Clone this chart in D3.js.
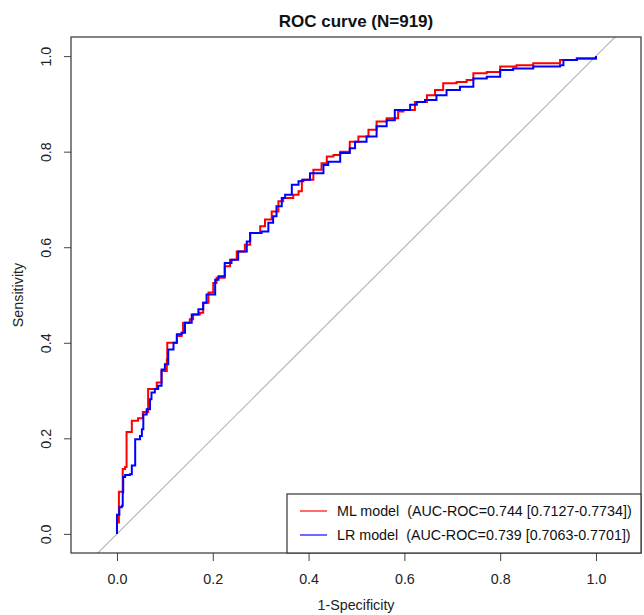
<!DOCTYPE html>
<html>
<head>
<meta charset="utf-8">
<script src="https://cdn.jsdelivr.net/npm/d3@7"></script>
<style>
  body { margin: 0; background: #fff; }
  text { font-family: "Liberation Sans", Arial, sans-serif; }
</style>
</head>
<body>
<div id="chart"></div>
<script>
// ROC curves (1-specificity, sensitivity)
const mlFpr = [0, 0, 0.004, 0.012, 0.012, 0.017, 0.020, 0.031, 0.031, 0.044, 0.054, 0.065, 0.065, 0.072, 0.083,
  0.093, 0.104, 0.105, 0.118, 0.125, 0.135, 0.138, 0.152, 0.159, 0.173, 0.180, 0.191, 0.201, 0.208, 0.225,
  0.236, 0.250, 0.267, 0.278, 0.299, 0.309, 0.323, 0.337, 0.347, 0.368, 0.379, 0.386, 0.410, 0.427, 0.438,
  0.452, 0.466, 0.486, 0.504, 0.525, 0.542, 0.563, 0.587, 0.598, 0.622, 0.647, 0.664, 0.681, 0.709, 0.730,
  0.744, 0.772, 0.800, 0.834, 0.869, 0.925, 0.960, 1];
const mlTpr = [0, 0.024, 0.088, 0.094, 0.136, 0.140, 0.213, 0.215, 0.237, 0.242, 0.255, 0.261, 0.303, 0.303, 0.317,
  0.341, 0.365, 0.400, 0.400, 0.414, 0.421, 0.442, 0.449, 0.459, 0.463, 0.484, 0.505, 0.525, 0.536, 0.560,
  0.574, 0.591, 0.605, 0.630, 0.644, 0.658, 0.675, 0.696, 0.703, 0.710, 0.717, 0.741, 0.762, 0.776, 0.790,
  0.793, 0.800, 0.821, 0.832, 0.846, 0.863, 0.870, 0.884, 0.887, 0.904, 0.918, 0.929, 0.943, 0.946, 0.950,
  0.964, 0.967, 0.978, 0.981, 0.985, 0.992, 0.995, 1];

const lrFpr = [0, 0, 0.005, 0.005, 0.010, 0.012, 0.013, 0.017, 0.027, 0.031, 0.038, 0.048, 0.052, 0.055, 0.062,
  0.069, 0.072, 0.079, 0.086, 0.093, 0.100, 0.107, 0.118, 0.125, 0.135, 0.142, 0.156, 0.170, 0.180, 0.187,
  0.205, 0.212, 0.225, 0.239, 0.253, 0.271, 0.278, 0.302, 0.316, 0.326, 0.333, 0.344, 0.351, 0.365, 0.379,
  0.389, 0.403, 0.431, 0.441, 0.466, 0.486, 0.497, 0.521, 0.542, 0.563, 0.580, 0.612, 0.626, 0.643, 0.667,
  0.688, 0.716, 0.744, 0.772, 0.800, 0.827, 0.869, 0.925, 0.932, 0.960, 1];
const lrTpr = [0, 0.040, 0.045, 0.056, 0.059, 0.087, 0.119, 0.123, 0.125, 0.143, 0.198, 0.205, 0.219, 0.250, 0.261,
  0.282, 0.296, 0.303, 0.310, 0.344, 0.355, 0.386, 0.400, 0.418, 0.421, 0.442, 0.459, 0.470, 0.484, 0.501,
  0.532, 0.539, 0.567, 0.574, 0.591, 0.612, 0.630, 0.633, 0.651, 0.665, 0.686, 0.703, 0.710, 0.731, 0.738,
  0.741, 0.755, 0.772, 0.779, 0.797, 0.807, 0.821, 0.832, 0.853, 0.866, 0.887, 0.898, 0.904, 0.908, 0.918,
  0.929, 0.936, 0.953, 0.957, 0.971, 0.974, 0.978, 0.981, 0.992, 0.995, 1];

const xTicks = [0, 0.2, 0.4, 0.6, 0.8, 1.0];
const yTicks = [0, 0.2, 0.4, 0.6, 0.8, 1.0];
const seriesNames = ["ML model  (AUC-ROC=0.744 [0.7127-0.7734])", "LR model  (AUC-ROC=0.739 [0.7063-0.7701])"];
const seriesColors = ["#ff0000", "#0000ff"];
const legendColors = ["#ff6b6b", "#6b6bff"];

const W = 644, H = 615;
const margin = {top: 37, right: 3, bottom: 62, left: 71};
const width = W - margin.left - margin.right;
const height = H - margin.top - margin.bottom;
const fontSize = 14.3;

const svg = d3.select("#chart").append("svg")
    .attr("width", W)
    .attr("height", H);

const g = svg.append("g")
    .attr("transform", "translate(" + margin.left + "," + margin.top + ")");

// asp = 1 style ranges, like the R plot
const x = d3.scaleLinear().domain([-0.096, 1.094]).range([0, width]);
const y = d3.scaleLinear().domain([-0.04, 1.04]).range([height, 0]);

g.append("clipPath").attr("id", "clip")
  .append("rect").attr("width", width).attr("height", height);

// chance diagonal
g.append("line")
    .attr("clip-path", "url(#clip)")
    .attr("x1", x(-0.2)).attr("y1", y(-0.2))
    .attr("x2", x(1.2)).attr("y2", y(1.2))
    .attr("stroke", "#b8b8b8")
    .attr("stroke-width", 1.2);

// curves
const curves = [
  d3.zip(mlFpr, mlTpr),
  d3.zip(lrFpr, lrTpr)
];
const line = d3.line()
    .x(d => x(d[0]))
    .y(d => y(d[1]))
    .curve(d3.curveStepAfter);

curves.forEach((pts, i) => {
  g.append("path")
      .datum(pts)
      .attr("fill", "none")
      .attr("stroke", seriesColors[i])
      .attr("stroke-width", 2)
      .attr("d", line);
});

// X axis
const xAxis = g.append("g")
    .attr("transform", "translate(0," + height + ")")
    .call(d3.axisBottom(x).tickValues(xTicks).tickSize(8).tickPadding(13).tickFormat(d3.format(".1f")));
xAxis.select(".domain").remove();
xAxis.selectAll("line").attr("stroke", "#444");
xAxis.selectAll("text").attr("font-size", fontSize).attr("fill", "#222")
    .style("font-family", "'Liberation Sans', Arial, sans-serif");

// Y axis
const yAxis = g.append("g")
    .call(d3.axisLeft(y).tickValues(yTicks).tickSize(7).tickFormat(d3.format(".1f")));
yAxis.select(".domain").remove();
yAxis.selectAll("line").attr("stroke", "#444");
yAxis.selectAll("text")
    .attr("font-size", fontSize).attr("fill", "#222")
    .style("font-family", "'Liberation Sans', Arial, sans-serif")
    .attr("transform", "rotate(-90)")
    .attr("x", 0).attr("y", -20).attr("dy", 0)
    .attr("text-anchor", "middle");

// frame
g.append("rect")
    .attr("width", width).attr("height", height)
    .attr("fill", "none").attr("stroke", "#333").attr("stroke-width", 1.2);

// titles
svg.append("text")
    .attr("x", margin.left + width / 2).attr("y", 27)
    .attr("text-anchor", "middle")
    .attr("font-size", 17).attr("font-weight", "bold").attr("fill", "#111")
    .text("ROC curve (N=919)");

svg.append("text")
    .attr("x", margin.left + width / 2).attr("y", 610)
    .attr("text-anchor", "middle")
    .attr("font-size", fontSize).attr("fill", "#222")
    .text("1-Specificity");

svg.append("text")
    .attr("transform", "translate(23," + (margin.top + y(0.5)) + ") rotate(-90)")
    .attr("text-anchor", "middle")
    .attr("font-size", fontSize).attr("fill", "#222")
    .text("Sensitivity");

// legend
const lg = g.append("g").attr("transform", "translate(" + (287 - margin.left) + "," + (494 - margin.top) + ")");
lg.append("rect")
    .attr("width", width - (287 - margin.left)).attr("height", height - (494 - margin.top))
    .attr("fill", "#fff").attr("stroke", "#333").attr("stroke-width", 1.2);

seriesNames.forEach((name, i) => {
  const yy = 17 + i * 24;
  lg.append("line")
      .attr("x1", 13).attr("x2", 40).attr("y1", yy).attr("y2", yy)
      .attr("stroke", legendColors[i]).attr("stroke-width", 2);
  lg.append("text")
      .attr("x", 50).attr("y", yy).attr("dy", "0.35em")
      .attr("font-size", fontSize).attr("fill", "#111")
      .style("white-space", "pre")
      .text(name);
});
</script>
</body>
</html>
